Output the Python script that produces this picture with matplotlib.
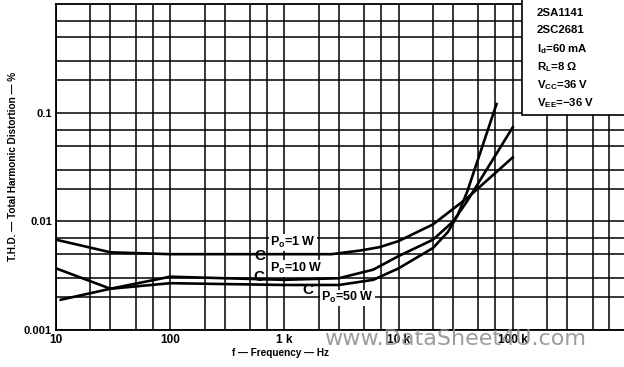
# THD vs frequency, 2SA1141 / 2SC2681
import numpy as np
import matplotlib.pyplot as plt
from matplotlib.patches import Rectangle

# curve data (Hz, %)
f_1w = [10, 30, 100, 1000, 2600, 4600, 6800, 10000, 20000, 40000, 100000]
thd_1w = [0.0068, 0.0052, 0.0050, 0.0050, 0.0050, 0.0054, 0.0058, 0.0066, 0.0094, 0.0165, 0.039]

f_10w = [10, 30, 100, 300, 1000, 3000, 6000, 10000, 20000, 30000, 40000, 100000]
thd_10w = [0.0037, 0.0024, 0.0031, 0.0030, 0.0029, 0.0030, 0.0036, 0.0048, 0.0068, 0.0100, 0.0155, 0.074]

f_50w = [11, 30, 100, 1000, 3000, 6000, 10000, 20000, 27000, 33000, 40000, 72000]
thd_50w = [0.0019, 0.0024, 0.0027, 0.0026, 0.0026, 0.0029, 0.0037, 0.0057, 0.0080, 0.0115, 0.019, 0.121]

xticks = [10, 100, 1000, 10000, 100000]
xticklabels = ['10', '100', '1 k', '10 k', '100 k']
yticks = [0.001, 0.01, 0.1]
yticklabels = ['0.001', '0.01', '0.1']

info = ['2SA1141', '2SC2681', r'I$_\mathregular{d}$=60 mA', r'R$_\mathregular{L}$=8 Ω',
        r'V$_\mathregular{CC}$=36 V', r'V$_\mathregular{EE}$=−36 V']

plt.rcParams['font.family'] = ['Liberation Sans', 'DejaVu Sans']
plt.rcParams['mathtext.fontset'] = 'custom'
plt.rcParams['mathtext.rm'] = 'Liberation Sans'

fig = plt.figure(figsize=(6.24, 3.67), dpi=100)
ax = fig.add_axes([56/624, 37/367, 571/624, 325.5/367])
ax.set_xscale('log')
ax.set_yscale('log')
ax.set_xlim(10, 1e6)
ax.set_ylim(0.001, 1)

# grid at 1,2,3,5,7 of each decade
for d in range(1, 6):
    for m in [1, 2, 3, 5, 7]:
        ax.axvline(m * 10**d, color='black', lw=1.1, zorder=1)
for d in range(-3, 0):
    for m in [1, 2, 3, 5, 7]:
        ax.axhline(m * 10.0**d, color='black', lw=1.1, zorder=1)

ax.plot(f_1w, thd_1w, color='black', lw=1.9, zorder=3)
ax.plot(f_10w, thd_10w, color='black', lw=1.9, zorder=3)
ax.plot(f_50w, thd_50w, color='black', lw=1.9, zorder=3)

lab = dict(fontsize=9, fontweight='bold', va='center', ha='left', zorder=4,
           bbox=dict(facecolor='white', edgecolor='none', pad=0.5))
ax.text(750, 0.0064, r'P$_\mathregular{o}$=1 W', **lab)
ax.text(750, 0.0037, r'P$_\mathregular{o}$=10 W', **lab)
ax.text(2100, 0.00198, r'P$_\mathregular{o}$=50 W', **lab)
for fx, vy in [(610, 0.0048), (600, 0.0031), (1600, 0.00236)]:
    ax.text(fx, vy, 'C', fontsize=11, fontweight='bold', ha='center', va='center', zorder=5)

# info box
ax.add_patch(Rectangle((0.816, 0.6605), 0.3, 0.4, transform=ax.transAxes,
                       facecolor='white', edgecolor='black', lw=1.2, zorder=6, clip_on=False))
for i, s in enumerate(info):
    y = [0.974, 0.922, 0.862, 0.807, 0.751, 0.696][i]
    ax.text(0.842, y, s, transform=ax.transAxes, fontsize=8.2, fontweight='bold',
            va='center', ha='left', zorder=7)

ax.set_xticks(xticks)
ax.set_xticklabels(xticklabels, fontsize=8.5, fontweight='bold')
ax.set_yticks(yticks)
ax.set_yticklabels(yticklabels, fontsize=8, fontweight='bold')
ax.minorticks_off()
ax.tick_params(length=0, pad=3)
for s in ax.spines.values():
    s.set_linewidth(1.3)

fig.text(280/624, 1 - 353/367, 'f — Frequency — Hz', fontsize=7.2, fontweight='bold',
         ha='center', va='center')
fig.text(13/624, 1 - 166/367, 'T.H.D. — Total Harmonic Distortion — %', fontsize=7.2,
         fontweight='bold', rotation=90, ha='center', va='center')

# scan watermark
fig.text(455/624, 1 - 339/367, 'www.DataSheet4U.com', fontsize=16, color='#8a8a8a',
         family='DejaVu Sans', ha='center', va='center', alpha=0.85)

fig.savefig('out.png', dpi=100)
